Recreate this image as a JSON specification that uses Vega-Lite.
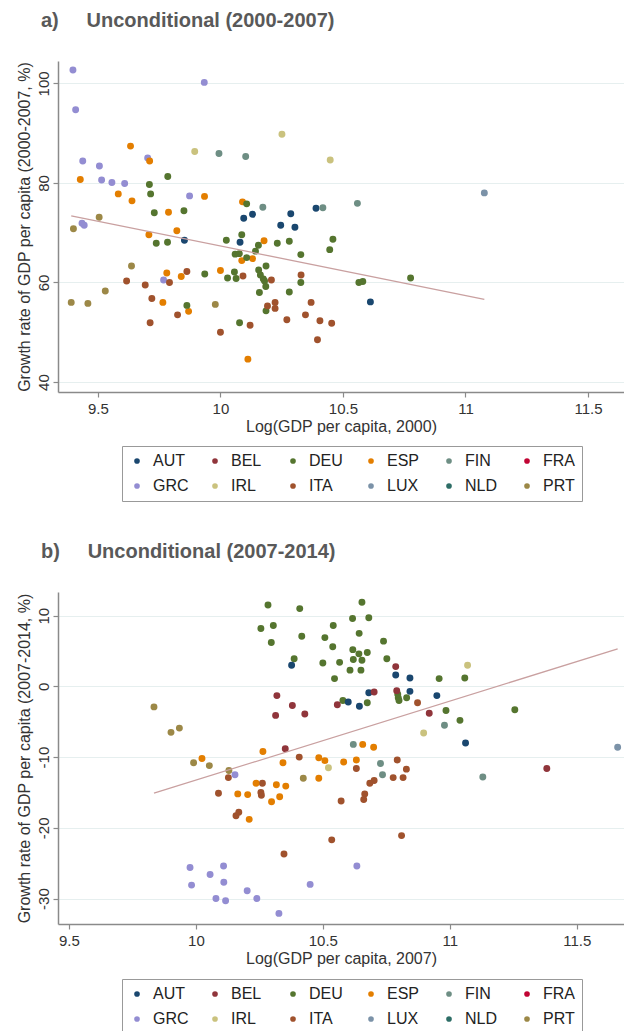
{
  "$schema": "https://vega.github.io/schema/vega-lite/v6.json",
  "autosize": {"type": "pad"},
  "padding": {"left": 15, "top": 11, "right": 0, "bottom": 0},
  "background": "white",
  "config": {
    "font": "Liberation Sans",
    "view": {"stroke": null},
    "axis": {"domainColor": "#8a8a8a", "domainWidth": 1.5, "tickColor": "#8a8a8a", "tickSize": 5, "tickWidth": 1.2, "labelFontSize": 15, "labelColor": "#333333", "titleFontSize": 16, "titleFontWeight": "normal", "titleColor": "#333333", "gridColor": "#e6efef", "gridWidth": 1},
    "axisX": {"grid": false, "labelPadding": 4, "titlePadding": 2},
    "axisY": {"grid": true, "labelAngle": -90, "labelAlign": "center", "labelBaseline": "bottom", "labelPadding": 2, "titlePadding": 4},
    "title": {"fontSize": 20, "fontWeight": "bold", "color": "#595959", "anchor": "start", "frame": "group"},
    "legend": {"direction": "horizontal", "columns": 6, "symbolType": "circle", "symbolSize": 32, "symbolStrokeWidth": 0, "labelFontSize": 16, "labelColor": "#222222", "strokeColor": "#999999", "padding": 7, "columnPadding": 18, "rowPadding": 9, "gridAlign": "all", "labelOffset": 8},
    "concat": {"spacing": 40}
  },
  "datasets": {
    "a": [
      {"country": "GRC", "lgdp": 9.398, "growth": 102.7}, {"country": "GRC", "lgdp": 9.934, "growth": 100.2}, {"country": "GRC", "lgdp": 9.409, "growth": 94.7}, {"country": "GRC", "lgdp": 9.438, "growth": 84.4}, {"country": "GRC", "lgdp": 9.506, "growth": 83.4}, {"country": "GRC", "lgdp": 9.703, "growth": 85.0}, {"country": "GRC", "lgdp": 9.515, "growth": 80.6}, {"country": "GRC", "lgdp": 9.557, "growth": 80.1}, {"country": "GRC", "lgdp": 9.609, "growth": 79.9}, {"country": "GRC", "lgdp": 9.874, "growth": 77.4}, {"country": "GRC", "lgdp": 9.435, "growth": 71.9}, {"country": "GRC", "lgdp": 9.444, "growth": 71.5}, {"country": "GRC", "lgdp": 9.768, "growth": 60.5},
      {"country": "ESP", "lgdp": 9.633, "growth": 87.4}, {"country": "ESP", "lgdp": 9.711, "growth": 84.4}, {"country": "ESP", "lgdp": 9.428, "growth": 80.7}, {"country": "ESP", "lgdp": 9.583, "growth": 77.8}, {"country": "ESP", "lgdp": 9.639, "growth": 76.4}, {"country": "ESP", "lgdp": 9.935, "growth": 77.3}, {"country": "ESP", "lgdp": 10.09, "growth": 76.2}, {"country": "ESP", "lgdp": 9.788, "growth": 74.1}, {"country": "ESP", "lgdp": 9.822, "growth": 70.4}, {"country": "ESP", "lgdp": 9.708, "growth": 69.6}, {"country": "ESP", "lgdp": 10.178, "growth": 68.4}, {"country": "ESP", "lgdp": 10.087, "growth": 64.4}, {"country": "ESP", "lgdp": 10.131, "growth": 64.8}, {"country": "ESP", "lgdp": 10.0, "growth": 62.4}, {"country": "ESP", "lgdp": 9.781, "growth": 61.9}, {"country": "ESP", "lgdp": 9.84, "growth": 61.2}, {"country": "ESP", "lgdp": 9.765, "growth": 56.0}, {"country": "ESP", "lgdp": 9.87, "growth": 54.2}, {"country": "ESP", "lgdp": 10.112, "growth": 44.6},
      {"country": "DEU", "lgdp": 9.785, "growth": 81.3}, {"country": "DEU", "lgdp": 9.71, "growth": 79.7}, {"country": "DEU", "lgdp": 9.715, "growth": 77.8}, {"country": "DEU", "lgdp": 10.107, "growth": 75.8}, {"country": "DEU", "lgdp": 9.73, "growth": 74.0}, {"country": "DEU", "lgdp": 9.851, "growth": 74.4}, {"country": "DEU", "lgdp": 9.738, "growth": 67.9}, {"country": "DEU", "lgdp": 9.784, "growth": 68.1}, {"country": "DEU", "lgdp": 10.024, "growth": 68.5}, {"country": "DEU", "lgdp": 10.087, "growth": 69.6}, {"country": "DEU", "lgdp": 10.155, "growth": 67.5}, {"country": "DEU", "lgdp": 10.232, "growth": 67.9}, {"country": "DEU", "lgdp": 10.281, "growth": 68.3}, {"country": "DEU", "lgdp": 10.459, "growth": 68.7}, {"country": "DEU", "lgdp": 10.446, "growth": 66.6}, {"country": "DEU", "lgdp": 10.328, "growth": 65.6}, {"country": "DEU", "lgdp": 10.143, "growth": 66.3}, {"country": "DEU", "lgdp": 10.06, "growth": 65.7}, {"country": "DEU", "lgdp": 10.077, "growth": 65.8}, {"country": "DEU", "lgdp": 10.107, "growth": 65.0}, {"country": "DEU", "lgdp": 10.186, "growth": 63.3}, {"country": "DEU", "lgdp": 10.156, "growth": 62.5}, {"country": "DEU", "lgdp": 10.057, "growth": 62.1}, {"country": "DEU", "lgdp": 9.936, "growth": 61.7}, {"country": "DEU", "lgdp": 10.029, "growth": 60.9}, {"country": "DEU", "lgdp": 10.064, "growth": 60.8}, {"country": "DEU", "lgdp": 10.163, "growth": 61.5}, {"country": "DEU", "lgdp": 10.175, "growth": 60.7}, {"country": "DEU", "lgdp": 10.18, "growth": 60.3}, {"country": "DEU", "lgdp": 10.185, "growth": 59.2}, {"country": "DEU", "lgdp": 10.159, "growth": 58.0}, {"country": "DEU", "lgdp": 10.328, "growth": 60.0}, {"country": "DEU", "lgdp": 10.281, "growth": 58.1}, {"country": "DEU", "lgdp": 9.863, "growth": 55.4}, {"country": "DEU", "lgdp": 10.186, "growth": 54.3}, {"country": "DEU", "lgdp": 10.078, "growth": 51.9}, {"country": "DEU", "lgdp": 10.565, "growth": 60.0}, {"country": "DEU", "lgdp": 10.581, "growth": 60.2}, {"country": "DEU", "lgdp": 10.776, "growth": 60.9},
      {"country": "ITA", "lgdp": 9.617, "growth": 60.3}, {"country": "ITA", "lgdp": 9.693, "growth": 59.5}, {"country": "ITA", "lgdp": 9.792, "growth": 60.0}, {"country": "ITA", "lgdp": 9.863, "growth": 62.2}, {"country": "ITA", "lgdp": 10.092, "growth": 61.3}, {"country": "ITA", "lgdp": 10.208, "growth": 60.5}, {"country": "ITA", "lgdp": 10.329, "growth": 61.5}, {"country": "ITA", "lgdp": 9.72, "growth": 56.8}, {"country": "ITA", "lgdp": 9.825, "growth": 53.5}, {"country": "ITA", "lgdp": 9.713, "growth": 51.9}, {"country": "ITA", "lgdp": 10.0, "growth": 50.0}, {"country": "ITA", "lgdp": 10.121, "growth": 51.4}, {"country": "ITA", "lgdp": 10.223, "growth": 56.0}, {"country": "ITA", "lgdp": 10.192, "growth": 55.3}, {"country": "ITA", "lgdp": 10.223, "growth": 54.8}, {"country": "ITA", "lgdp": 10.37, "growth": 56.0}, {"country": "ITA", "lgdp": 10.347, "growth": 53.5}, {"country": "ITA", "lgdp": 10.271, "growth": 52.5}, {"country": "ITA", "lgdp": 10.406, "growth": 52.3}, {"country": "ITA", "lgdp": 10.454, "growth": 51.8}, {"country": "ITA", "lgdp": 10.396, "growth": 48.5},
      {"country": "AUT", "lgdp": 10.39, "growth": 74.9}, {"country": "AUT", "lgdp": 10.131, "growth": 73.7}, {"country": "AUT", "lgdp": 10.095, "growth": 72.9}, {"country": "AUT", "lgdp": 10.287, "growth": 73.8}, {"country": "AUT", "lgdp": 10.246, "growth": 71.5}, {"country": "AUT", "lgdp": 10.304, "growth": 71.1}, {"country": "AUT", "lgdp": 9.853, "growth": 68.5}, {"country": "AUT", "lgdp": 10.08, "growth": 68.1}, {"country": "AUT", "lgdp": 10.612, "growth": 56.1},
      {"country": "FIN", "lgdp": 9.994, "growth": 85.9}, {"country": "FIN", "lgdp": 10.103, "growth": 85.3}, {"country": "FIN", "lgdp": 10.173, "growth": 75.1}, {"country": "FIN", "lgdp": 10.418, "growth": 75.0}, {"country": "FIN", "lgdp": 10.559, "growth": 75.9},
      {"country": "IRL", "lgdp": 10.251, "growth": 89.8}, {"country": "IRL", "lgdp": 9.895, "growth": 86.3}, {"country": "IRL", "lgdp": 10.448, "growth": 84.6},
      {"country": "LUX", "lgdp": 11.077, "growth": 78.0},
      {"country": "PRT", "lgdp": 9.505, "growth": 73.1}, {"country": "PRT", "lgdp": 9.4, "growth": 70.8}, {"country": "PRT", "lgdp": 9.637, "growth": 63.3}, {"country": "PRT", "lgdp": 9.53, "growth": 58.3}, {"country": "PRT", "lgdp": 9.391, "growth": 56.0}, {"country": "PRT", "lgdp": 9.459, "growth": 55.8}, {"country": "PRT", "lgdp": 9.979, "growth": 55.6}
    ],
    "fitA": [{"lgdp": 9.391, "growth": 73.4}, {"lgdp": 11.077, "growth": 56.6}],
    "b": [
      {"country": "DEU", "lgdp": 10.284, "growth": 11.5}, {"country": "DEU", "lgdp": 10.409, "growth": 11.0}, {"country": "DEU", "lgdp": 10.654, "growth": 11.9}, {"country": "DEU", "lgdp": 10.617, "growth": 9.6}, {"country": "DEU", "lgdp": 10.681, "growth": 9.7}, {"country": "DEU", "lgdp": 10.256, "growth": 8.2}, {"country": "DEU", "lgdp": 10.305, "growth": 8.6}, {"country": "DEU", "lgdp": 10.541, "growth": 8.6}, {"country": "DEU", "lgdp": 10.643, "growth": 7.5}, {"country": "DEU", "lgdp": 10.417, "growth": 7.1}, {"country": "DEU", "lgdp": 10.508, "growth": 6.9}, {"country": "DEU", "lgdp": 10.297, "growth": 6.2}, {"country": "DEU", "lgdp": 10.739, "growth": 6.4}, {"country": "DEU", "lgdp": 10.539, "growth": 5.6}, {"country": "DEU", "lgdp": 10.618, "growth": 5.2}, {"country": "DEU", "lgdp": 10.642, "growth": 4.6}, {"country": "DEU", "lgdp": 10.675, "growth": 4.8}, {"country": "DEU", "lgdp": 10.62, "growth": 3.8}, {"country": "DEU", "lgdp": 10.654, "growth": 3.7}, {"country": "DEU", "lgdp": 10.387, "growth": 3.9}, {"country": "DEU", "lgdp": 10.5, "growth": 3.3}, {"country": "DEU", "lgdp": 10.566, "growth": 3.4}, {"country": "DEU", "lgdp": 10.752, "growth": 3.9}, {"country": "DEU", "lgdp": 10.607, "growth": 2.3}, {"country": "DEU", "lgdp": 10.65, "growth": 2.3}, {"country": "DEU", "lgdp": 10.546, "growth": 1.1}, {"country": "DEU", "lgdp": 10.958, "growth": 1.1}, {"country": "DEU", "lgdp": 11.059, "growth": 1.2}, {"country": "DEU", "lgdp": 10.795, "growth": -1.1}, {"country": "DEU", "lgdp": 10.797, "growth": -1.6}, {"country": "DEU", "lgdp": 10.8, "growth": -2.0}, {"country": "DEU", "lgdp": 10.83, "growth": -1.6}, {"country": "DEU", "lgdp": 10.579, "growth": -2.0}, {"country": "DEU", "lgdp": 10.675, "growth": -2.3}, {"country": "DEU", "lgdp": 10.985, "growth": -3.4}, {"country": "DEU", "lgdp": 11.04, "growth": -4.8}, {"country": "DEU", "lgdp": 11.256, "growth": -3.3},
      {"country": "AUT", "lgdp": 10.377, "growth": 3.0}, {"country": "AUT", "lgdp": 10.787, "growth": 1.6}, {"country": "AUT", "lgdp": 10.843, "growth": 1.2}, {"country": "AUT", "lgdp": 10.681, "growth": -0.9}, {"country": "AUT", "lgdp": 10.843, "growth": -0.7}, {"country": "AUT", "lgdp": 10.949, "growth": -1.3}, {"country": "AUT", "lgdp": 10.6, "growth": -2.2}, {"country": "AUT", "lgdp": 10.644, "growth": -2.8}, {"country": "AUT", "lgdp": 11.062, "growth": -8.0},
      {"country": "BEL", "lgdp": 10.787, "growth": 2.8}, {"country": "BEL", "lgdp": 10.319, "growth": -1.3}, {"country": "BEL", "lgdp": 10.702, "growth": -0.8}, {"country": "BEL", "lgdp": 10.791, "growth": -0.6}, {"country": "BEL", "lgdp": 10.557, "growth": -2.6}, {"country": "BEL", "lgdp": 10.38, "growth": -2.7}, {"country": "BEL", "lgdp": 10.429, "growth": -3.9}, {"country": "BEL", "lgdp": 10.314, "growth": -4.1}, {"country": "BEL", "lgdp": 10.919, "growth": -3.8}, {"country": "BEL", "lgdp": 10.352, "growth": -8.8}, {"country": "BEL", "lgdp": 11.382, "growth": -11.6},
      {"country": "IRL", "lgdp": 11.07, "growth": 3.0}, {"country": "IRL", "lgdp": 10.897, "growth": -6.6}, {"country": "IRL", "lgdp": 10.522, "growth": -11.5},
      {"country": "ITA", "lgdp": 10.873, "growth": -2.3}, {"country": "ITA", "lgdp": 10.407, "growth": -10.0}, {"country": "ITA", "lgdp": 10.793, "growth": -10.4}, {"country": "ITA", "lgdp": 10.632, "growth": -11.6}, {"country": "ITA", "lgdp": 10.829, "growth": -11.7}, {"country": "ITA", "lgdp": 10.128, "growth": -12.9}, {"country": "ITA", "lgdp": 10.777, "growth": -12.9}, {"country": "ITA", "lgdp": 10.816, "growth": -12.9}, {"country": "ITA", "lgdp": 10.702, "growth": -13.3}, {"country": "ITA", "lgdp": 10.685, "growth": -13.7}, {"country": "ITA", "lgdp": 10.262, "growth": -13.7}, {"country": "ITA", "lgdp": 10.089, "growth": -15.1}, {"country": "ITA", "lgdp": 10.256, "growth": -15.0}, {"country": "ITA", "lgdp": 10.258, "growth": -15.4}, {"country": "ITA", "lgdp": 10.665, "growth": -15.2}, {"country": "ITA", "lgdp": 10.572, "growth": -16.2}, {"country": "ITA", "lgdp": 10.661, "growth": -16.0}, {"country": "ITA", "lgdp": 10.158, "growth": -18.3}, {"country": "ITA", "lgdp": 10.169, "growth": -17.8}, {"country": "ITA", "lgdp": 10.535, "growth": -21.7}, {"country": "ITA", "lgdp": 10.81, "growth": -21.1}, {"country": "ITA", "lgdp": 10.347, "growth": -23.7},
      {"country": "ESP", "lgdp": 10.657, "growth": -8.2}, {"country": "ESP", "lgdp": 10.7, "growth": -8.6}, {"country": "ESP", "lgdp": 10.264, "growth": -9.2}, {"country": "ESP", "lgdp": 10.484, "growth": -10.1}, {"country": "ESP", "lgdp": 10.508, "growth": -10.5}, {"country": "ESP", "lgdp": 10.582, "growth": -10.7}, {"country": "ESP", "lgdp": 10.632, "growth": -10.4}, {"country": "ESP", "lgdp": 10.024, "growth": -10.2}, {"country": "ESP", "lgdp": 10.343, "growth": -10.8}, {"country": "ESP", "lgdp": 10.484, "growth": -13.0}, {"country": "ESP", "lgdp": 10.237, "growth": -13.7}, {"country": "ESP", "lgdp": 10.317, "growth": -13.9}, {"country": "ESP", "lgdp": 10.354, "growth": -14.1}, {"country": "ESP", "lgdp": 10.165, "growth": -15.2}, {"country": "ESP", "lgdp": 10.204, "growth": -15.3}, {"country": "ESP", "lgdp": 10.298, "growth": -16.3}, {"country": "ESP", "lgdp": 10.33, "growth": -15.6}, {"country": "ESP", "lgdp": 10.21, "growth": -18.8},
      {"country": "FIN", "lgdp": 10.979, "growth": -5.5}, {"country": "FIN", "lgdp": 10.62, "growth": -8.2}, {"country": "FIN", "lgdp": 10.727, "growth": -10.9}, {"country": "FIN", "lgdp": 11.13, "growth": -12.8}, {"country": "FIN", "lgdp": 10.735, "growth": -12.5},
      {"country": "PRT", "lgdp": 9.835, "growth": -2.9}, {"country": "PRT", "lgdp": 9.902, "growth": -6.5}, {"country": "PRT", "lgdp": 9.935, "growth": -5.9}, {"country": "PRT", "lgdp": 9.991, "growth": -10.8}, {"country": "PRT", "lgdp": 10.053, "growth": -11.2}, {"country": "PRT", "lgdp": 10.13, "growth": -11.9}, {"country": "PRT", "lgdp": 10.423, "growth": -13.0},
      {"country": "GRC", "lgdp": 10.154, "growth": -12.5}, {"country": "GRC", "lgdp": 9.977, "growth": -25.6}, {"country": "GRC", "lgdp": 10.109, "growth": -25.4}, {"country": "GRC", "lgdp": 10.056, "growth": -26.6}, {"country": "GRC", "lgdp": 10.634, "growth": -25.4}, {"country": "GRC", "lgdp": 9.983, "growth": -28.1}, {"country": "GRC", "lgdp": 10.11, "growth": -27.7}, {"country": "GRC", "lgdp": 10.45, "growth": -28.0}, {"country": "GRC", "lgdp": 10.079, "growth": -30.0}, {"country": "GRC", "lgdp": 10.117, "growth": -30.3}, {"country": "GRC", "lgdp": 10.202, "growth": -28.9}, {"country": "GRC", "lgdp": 10.24, "growth": -30.0}, {"country": "GRC", "lgdp": 10.327, "growth": -32.1},
      {"country": "LUX", "lgdp": 11.661, "growth": -8.6}
    ],
    "fitB": [{"lgdp": 9.835, "growth": -15.1}, {"lgdp": 11.661, "growth": 5.3}]
  },
  "resolve": {"scale": {"color": "independent"}},
  "vconcat": [
    {
      "title": {"text": "a)\u00a0\u00a0\u00a0\u00a0\u00a0Unconditional (2000-2007)", "dx": -17, "offset": 30},
      "width": 566,
      "height": 331,
      "layer": [
        {
          "data": {"name": "a"},
          "mark": {"type": "circle", "size": 48, "opacity": 1},
          "encoding": {
            "x": {"field": "lgdp", "type": "quantitative", "scale": {"domain": [9.337, 11.647], "nice": false, "zero": false}, "axis": {"values": [9.5, 10, 10.5, 11, 11.5], "format": "~g", "title": "Log(GDP per capita, 2000)"}},
            "y": {"field": "growth", "type": "quantitative", "scale": {"domain": [38, 104.5], "nice": false, "zero": false}, "axis": {"values": [40, 60, 80, 100], "title": "Growth rate of GDP per capita (2000-2007, %)"}},
            "color": {"field": "country", "type": "nominal", "scale": {"domain": ["AUT", "BEL", "DEU", "ESP", "FIN", "FRA", "GRC", "IRL", "ITA", "LUX", "NLD", "PRT"], "range": ["#1a476f", "#90353b", "#55752f", "#e37e00", "#6e8e84", "#c10534", "#938dd2", "#cac27e", "#a0522d", "#7b92a8", "#2d6d66", "#9c8847"]}, "legend": {"title": null, "orient": "none", "legendX": 64, "legendY": 385}}
          }
        },
        {
          "data": {"name": "fitA"},
          "mark": {"type": "line", "color": "#c9a0a0", "strokeWidth": 1.3},
          "encoding": {"x": {"field": "lgdp", "type": "quantitative"}, "y": {"field": "growth", "type": "quantitative"}}
        }
      ]
    },
    {
      "title": {"text": "b)\u00a0\u00a0\u00a0\u00a0\u00a0Unconditional (2007-2014)", "dx": -17, "offset": 30},
      "width": 566,
      "height": 332,
      "layer": [
        {
          "data": {"name": "b"},
          "mark": {"type": "circle", "size": 48, "opacity": 1},
          "encoding": {
            "x": {"field": "lgdp", "type": "quantitative", "scale": {"domain": [9.457, 11.686], "nice": false, "zero": false}, "axis": {"values": [9.5, 10, 10.5, 11, 11.5], "format": "~g", "title": "Log(GDP per capita, 2007)"}},
            "y": {"field": "growth", "type": "quantitative", "scale": {"domain": [-33.6, 13.35], "nice": false, "zero": false}, "axis": {"values": [-30, -20, -10, 0, 10], "labelExpr": "datum.value < 0 ? '-' + abs(datum.value) : '' + datum.value", "title": "Growth rate of GDP per capita (2007-2014, %)"}},
            "color": {"field": "country", "type": "nominal", "scale": {"domain": ["AUT", "BEL", "DEU", "ESP", "FIN", "FRA", "GRC", "IRL", "ITA", "LUX", "NLD", "PRT"], "range": ["#1a476f", "#90353b", "#55752f", "#e37e00", "#6e8e84", "#c10534", "#938dd2", "#cac27e", "#a0522d", "#7b92a8", "#2d6d66", "#9c8847"]}, "legend": {"title": null, "orient": "none", "legendX": 64, "legendY": 387}}
          }
        },
        {
          "data": {"name": "fitB"},
          "mark": {"type": "line", "color": "#c9a0a0", "strokeWidth": 1.3},
          "encoding": {"x": {"field": "lgdp", "type": "quantitative"}, "y": {"field": "growth", "type": "quantitative"}}
        }
      ]
    }
  ]
}
